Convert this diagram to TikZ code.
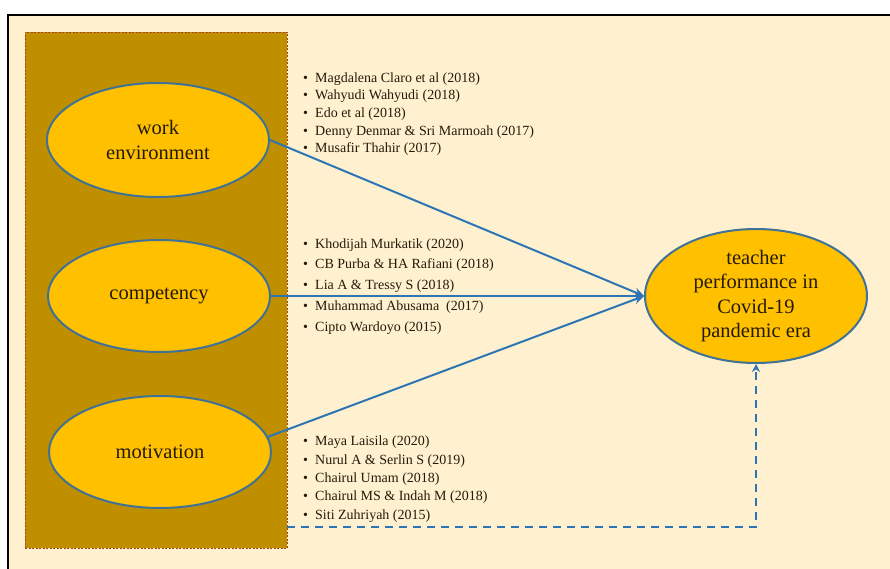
\documentclass[tikz,border=0pt]{standalone}
\usepackage{fontspec}
\setmainfont{Liberation Serif}
\usetikzlibrary{arrows.meta,positioning,shapes.geometric}

\definecolor{cream}{HTML}{FFF1CF}
\definecolor{darkgold}{HTML}{BF8F00}
\definecolor{gold}{HTML}{FFC000}
\definecolor{rim}{HTML}{3F7296}
\definecolor{linkblue}{HTML}{2E75B6}
\definecolor{rust}{HTML}{A0461E}
\definecolor{ink}{HTML}{241A0A}

\tikzset{
  groupbox/.style = {draw=rust, fill=darkgold, dashed, dash pattern=on 2pt off 1.5pt,
                     line width=0.9pt, inner sep=0pt},
  factor/.style   = {ellipse, draw=rim, fill=gold, line width=2pt, inner sep=0pt,
                     text=ink, align=center, font=\fontsize{20.5}{24.5}\selectfont},
  reflist/.style  = {anchor=base west, inner sep=0pt, align=left, text=ink},
  link/.style     = {draw=linkblue, line width=2pt, -{Stealth[length=10pt,width=9pt]}},
  dashlink/.style = {draw=linkblue, line width=2pt, dash pattern=on 8pt off 6pt,
                     -{Stealth[length=8pt,width=8pt]}}
}
\newcommand{\bul}{\makebox[12pt][l]{\textbullet}}

\begin{document}
\begin{tikzpicture}[x=1pt,y=-1pt]
	% page and frame
	\useasboundingbox (0,0) rectangle (890,569);
	\fill[white] (0,0) rectangle (890,569);
	\fill[cream] (8,15) rectangle (890,569);
	\draw[black, line width=1.8pt] (8,569) -- (8,15) -- (890,15);

	% group of factors
	\node[groupbox, minimum width=262pt, minimum height=516pt] (group) at (156,290) {};

	\node[factor, minimum width=222pt, minimum height=114pt] (work)  at (158,140) {work\\environment};
	\node[factor, minimum width=222pt, minimum height=112pt] (comp)  at (159,296) {competency};
	\node[factor, minimum width=222pt, minimum height=112pt] (motiv) at (160,452) {motivation};

	\node[factor, minimum width=222pt, minimum height=134pt] (perf) at (756,296)
		{teacher\\performance in\\Covid-19\\pandemic era};

	% references (placed by the baseline of the last line)
	\node[reflist, font=\fontsize{14}{17.7}\selectfont] (refwork) at (303,153) {%
		\bul Magdalena Claro et al (2018)\\
		\bul Wahyudi Wahyudi (2018)\\
		\bul Edo et al (2018)\\
		\bul Denny Denmar \& Sri Marmoah (2017)\\
		\bul Musafir Thahir (2017)};
	\node[reflist, font=\fontsize{14}{20.7}\selectfont] (refcomp) at (303,331) {%
		\bul Khodijah Murkatik (2020)\\
		\bul CB Purba \& HA Rafiani (2018)\\
		\bul Lia A \& Tressy S (2018)\\
		\bul Muhammad Abusama\ \ (2017)\\
		\bul Cipto Wardoyo (2015)};
	\node[reflist, font=\fontsize{14}{18.3}\selectfont] (refmotiv) at (303,519) {%
		\bul Maya Laisila (2020)\\
		\bul Nurul A \& Serlin S (2019)\\
		\bul Chairul Umam (2018)\\
		\bul Chairul MS \& Indah M (2018)\\
		\bul Siti Zuhriyah (2015)};

	% connectors
	\draw[link] (work.east) -- (perf.west);
	\draw[link] (comp.east) -- (perf.west);
	\draw[link] (motiv.8) -- (perf.west);

	\coordinate (dstart) at (group.east |- 0,527);
	\draw[dashlink] (dstart) -| (perf.south);
\end{tikzpicture}
\end{document}
